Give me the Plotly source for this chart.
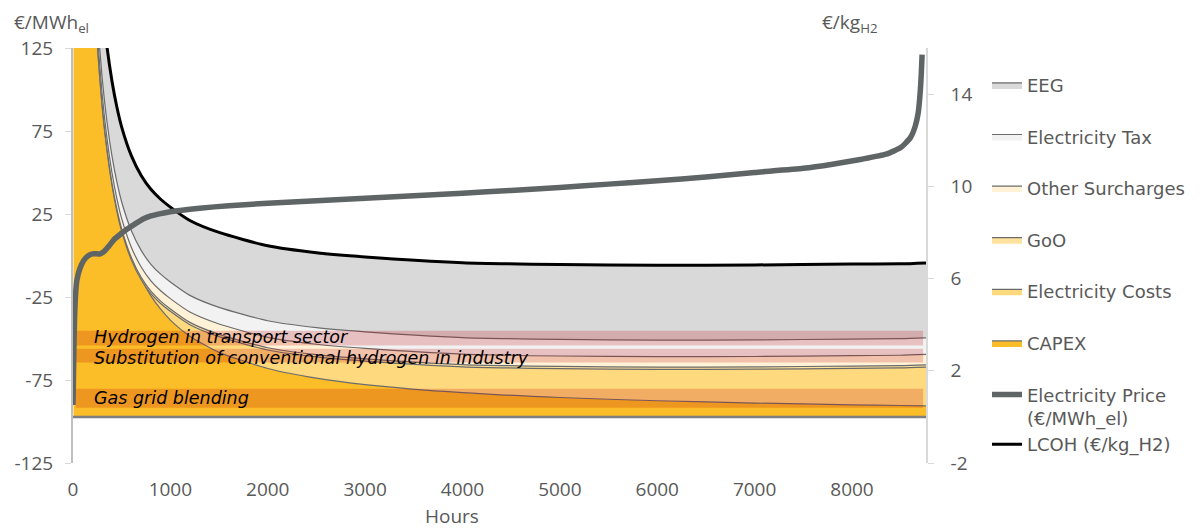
import plotly.graph_objects as go

# operating hours per year (sorted by electricity price)
hours = [5, 50, 100, 150, 200, 250, 300, 350, 400, 450, 500, 600, 700, 800, 900,
         1000, 1200, 1500, 2000, 2500, 3000, 4000, 5000, 6000, 7000, 8000, 8500, 8760]

# LCOH components in €/kg_H2
capex = [840, 84, 42, 28, 21, 16.8, 14.0, 12.0, 10.5, 9.33, 8.4, 7.0, 6.0, 5.25, 4.67,
         4.2, 3.5, 2.8, 2.1, 1.68, 1.4, 1.05, 0.84, 0.7, 0.6, 0.525, 0.494, 0.479]
elec_costs = [-4.4, -2.6, -1.6, -1.1, -0.85, -0.7, -0.6, -0.5, -0.45, -0.4, -0.35, -0.2, -0.05, 0.1, 0.25,
              0.38, 0.5, 0.68, 0.8, 0.92, 1.02, 1.12, 1.25, 1.36, 1.47, 1.58, 1.63, 1.68]
goo = [0.1, 0.1, 0.1, 0.1, 0.1, 0.1, 0.1, 0.1, 0.1, 0.1, 0.1, 0.1, 0.1, 0.1, 0.1,
       0.1, 0.1, 0.1, 0.1, 0.1, 0.1, 0.1, 0.1, 0.1, 0.1, 0.1, 0.1, 0.1]
other_surcharges = [0.45, 0.45, 0.45, 0.45, 0.45, 0.45, 0.45, 0.45, 0.45, 0.45, 0.45, 0.45, 0.45, 0.45, 0.45,
                    0.45, 0.45, 0.45, 0.45, 0.45, 0.45, 0.45, 0.45, 0.45, 0.45, 0.45, 0.45, 0.45]
elec_tax = [0.72, 0.72, 0.72, 0.72, 0.72, 0.72, 0.72, 0.72, 0.72, 0.72, 0.72, 0.72, 0.72, 0.72, 0.72,
            0.72, 0.72, 0.72, 0.72, 0.72, 0.72, 0.72, 0.72, 0.72, 0.72, 0.72, 0.72, 0.72]
eeg = [3.25, 3.25, 3.25, 3.25, 3.25, 3.25, 3.25, 3.25, 3.25, 3.25, 3.25, 3.25, 3.25, 3.25, 3.25,
       3.25, 3.25, 3.25, 3.25, 3.25, 3.25, 3.25, 3.25, 3.25, 3.25, 3.25, 3.25, 3.25]
lcoh = [840.12, 85.92, 44.92, 31.42, 24.67, 20.62, 17.92, 16.02, 14.57, 13.45, 12.57, 11.32, 10.47, 9.87, 9.44,
        9.10, 8.52, 8.00, 7.42, 7.12, 6.94, 6.69, 6.61, 6.58, 6.59, 6.63, 6.64, 6.68]

# electricity price duration curve, €/MWh_el
price_hours = [0, 8, 15, 25, 40, 70, 110, 160, 200, 280, 320, 380, 420, 480, 550,
               650, 720, 800, 900, 1000, 1300, 1600, 2000, 2500, 3000, 3500, 4000, 4500, 5000, 5500,
               6000, 6500, 7000, 7500, 7800, 8100, 8350, 8500, 8600, 8650, 8680, 8700, 8712, 8720]
price = [-90, -60, -40, -25, -15, -8, -3, 0, 1, 1, 2.5, 6.5, 9.5, 12.5, 15.6,
         19.5, 22, 23.8, 25.2, 26.4, 28.5, 30, 31.5, 33, 34.5, 36, 37.5, 39.2, 41, 43,
         45, 47.3, 50, 52.5, 55, 58, 61, 65, 71, 78, 86, 98, 110, 121]

# willingness-to-pay ranges of the use cases, €/kg_H2
band_names = ["Hydrogen in transport sector",
              "Substitution of conventional hydrogen in industry",
              "Gas grid blending"]
band_low = [3.10, 2.36, 0.40]
band_high = [3.74, 2.96, 1.22]
band_label_y = [3.46, 2.56, 0.80]
band_span = [30, 8730]

x_ticks = [0, 1000, 2000, 3000, 4000, 5000, 6000, 7000, 8000]
left_ticks = [-125, -75, -25, 25, 75, 125]
left_tick_text = ["-125", "-75", "-25", "25", "75", "125"]
right_ticks = [-2, 2, 6, 10, 14]
right_tick_text = ["-2", "2", "6", "10", "14"]

FONT = "Open Sans"
LEG_FONT = "DejaVu Sans"
GREY_TXT = "#595959"
EDGE = "#6b6b6b"

fig = go.Figure()

layers = [
    ("CAPEX", capex, "#FBBD28", 6),
    ("Electricity Costs", elec_costs, "#FFD97D", 5),
    ("GoO", goo, "#FFE29E", 4),
    ("Other Surcharges", other_surcharges, "#FFF2D6", 3),
    ("Electricity Tax", elec_tax, "#F2F2F2", 2),
    ("EEG", eeg, "#D9D9D9", 1),
]
for name, vals, col, rank in layers:
    fig.add_trace(go.Scatter(
        x=hours, y=vals, name=name, stackgroup="lcoh", yaxis="y",
        mode="lines", line=dict(color=EDGE, width=1.2, shape="spline", smoothing=0.6),
        fillcolor=col, legendgroup=name, legendrank=rank, hoverinfo="skip",
    ))

# use case bands
for lo, hi in zip(band_low, band_high):
    fig.add_trace(go.Scatter(
        x=[band_span[0], band_span[1], band_span[1], band_span[0]],
        y=[lo, lo, hi, hi], fill="toself", mode="none",
        fillcolor="rgba(192,0,0,0.2)", showlegend=False, hoverinfo="skip", yaxis="y",
    ))

fig.add_trace(go.Scatter(
    x=hours, y=lcoh, name="LCOH (€/kg_H2)", yaxis="y", mode="lines",
    line=dict(color="black", width=3, shape="spline", smoothing=0.6),
    legendgroup="lines", legendrank=8, hoverinfo="skip",
))
fig.add_trace(go.Scatter(
    x=price_hours, y=price, name="Electricity Price<br>(€/MWh_el)", yaxis="y2", mode="lines",
    line=dict(color="#5f6465", width=5.5, shape="spline", smoothing=0.5),
    legendgroup="lines", legendrank=7, hoverinfo="skip",
))

for name, ly in zip(band_names, band_label_y):
    fig.add_annotation(x=190, y=ly, xref="x", yref="y", text=name, showarrow=False,
                       xanchor="left", yanchor="middle",
                       font=dict(family=LEG_FONT, size=17.5, color="black", style="italic"))

# baseline of the stacked areas
fig.add_shape(type="line", xref="paper", x0=0, x1=1, yref="y", y0=0, y1=0,
              line=dict(color="#808080", width=2.5), layer="above")

fig.add_annotation(x=-0.0715, y=1.06, xref="paper", yref="paper", text="€/MWh<sub>el</sub>",
                   showarrow=False, xanchor="left", yanchor="middle",
                   font=dict(family=FONT, size=19, color=GREY_TXT))
fig.add_annotation(x=0.876, y=1.06, xref="paper", yref="paper", text="€/kg<sub>H2</sub>",
                   showarrow=False, xanchor="left", yanchor="middle",
                   font=dict(family=FONT, size=19, color=GREY_TXT))
fig.add_annotation(x=0.444, y=-0.128, xref="paper", yref="paper", text="Hours",
                   showarrow=False, xanchor="center", yanchor="middle",
                   font=dict(family=FONT, size=19, color=GREY_TXT))

fig.update_layout(
    width=1204, height=528,
    margin=dict(l=73, r=278, t=48, b=65),
    paper_bgcolor="white", plot_bgcolor="white",
    font=dict(family=FONT, size=19, color=GREY_TXT),
    xaxis=dict(range=[0, 8760], tickvals=x_ticks, automargin=False,
               showgrid=False, zeroline=False, showline=False, ticks="",
               ticklabelstandoff=13, tickfont=dict(size=19, color=GREY_TXT)),
    yaxis=dict(side="right", range=[-2, 16], tickvals=right_ticks, ticktext=right_tick_text,
               automargin=False, showgrid=False, zeroline=False, showline=True,
               linecolor="#D9D9D9", linewidth=1.5,
               ticks="outside", ticklen=6, tickcolor="#D9D9D9", ticklabelstandoff=13,
               tickfont=dict(size=19, color=GREY_TXT)),
    yaxis2=dict(overlaying="y", side="left", range=[-125, 125],
                tickvals=left_ticks, ticktext=left_tick_text, automargin=False,
                showgrid=False, zeroline=False, showline=True, linecolor="#BFBFBF", linewidth=2,
                ticks="outside", ticklen=6, tickcolor="#D9D9D9", ticklabelstandoff=8,
                tickfont=dict(size=19, color=GREY_TXT)),
    legend=dict(x=1.0715, y=0.955, xanchor="left", yanchor="top", traceorder="grouped",
                tracegroupgap=25.2, valign="top", itemwidth=30,
                font=dict(family=LEG_FONT, size=18, color=GREY_TXT), bgcolor="rgba(0,0,0,0)"),
    showlegend=True,
)

fig.write_html("out.html", config={"displayModeBar": False},
               post_script="document.body.style.margin='0px';")
